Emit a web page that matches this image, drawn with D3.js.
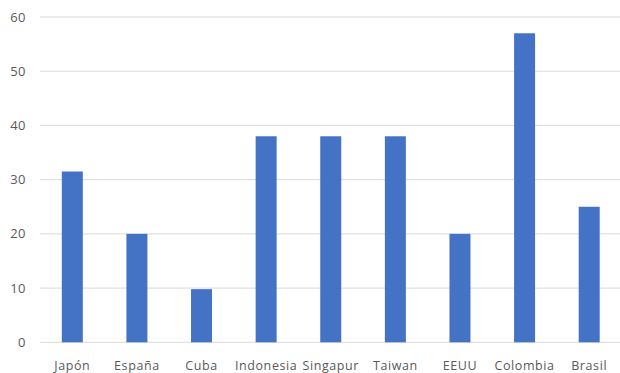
<!DOCTYPE html>
<html><head><meta charset="utf-8">
<script src="https://cdn.jsdelivr.net/npm/d3@7"></script>
<style>
html,body{margin:0;padding:0;background:#fff;}
svg text{font-family:"Open Sans","Liberation Sans",sans-serif;fill:#595959;}
</style></head>
<body><svg id="c" width="620" height="373"></svg>
<script>
const categories = ["Japón","España","Cuba","Indonesia","Singapur","Taiwan","EEUU","Colombia","Brasil"];
const values = [31.5, 20, 9.8, 38, 38, 38, 20, 57, 25];
const yTicks = [0,10,20,30,40,50,60];

const svg = d3.select("#c");
const x = d3.scaleBand().domain(categories).range([40, 621.5]).paddingInner(0.675).paddingOuter(0.3375);
const y = d3.scaleLinear().domain([0,60]).range([342.3, 17]);

svg.append("g").selectAll("line").data(yTicks).join("line")
  .attr("x1", 40).attr("x2", 620)
  .attr("y1", d => y(d)).attr("y2", d => y(d))
  .attr("stroke", "#d9d9d9").attr("stroke-width", 1);

svg.append("g").selectAll("text").data(yTicks).join("text")
  .attr("x", 26).attr("y", d => y(d) + 4.5)
  .attr("text-anchor", "end").attr("font-size", 13)
  .attr("letter-spacing", 0.5)
  .text(d => d);

svg.append("g").selectAll("rect").data(values).join("rect")
  .attr("x", (d,i) => x(categories[i]))
  .attr("width", x.bandwidth())
  .attr("y", d => y(d))
  .attr("height", d => y(0) - y(d))
  .attr("fill", "#4472C4");

svg.append("g").selectAll("text").data(categories).join("text")
  .attr("x", d => x(d) + x.bandwidth()/2).attr("y", 370)
  .attr("text-anchor", "middle").attr("font-size", 12.5)
  .attr("letter-spacing", 0.6)
  .text(d => d);
</script></body></html>
